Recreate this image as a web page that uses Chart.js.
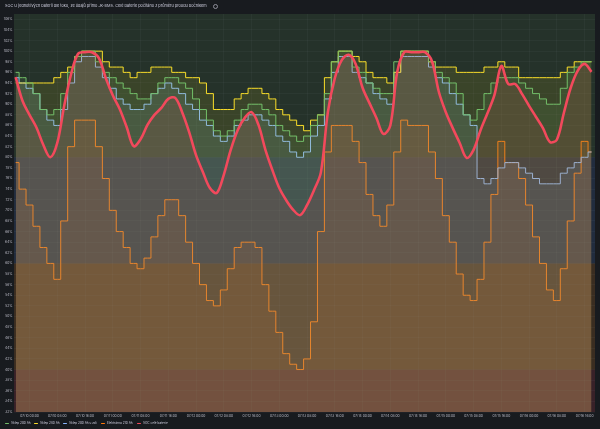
<!DOCTYPE html>
<html>
<head>
<meta charset="utf-8">
<script src="https://cdn.jsdelivr.net/npm/chart.js@4.4.0/dist/chart.umd.min.js"></script>
<style>
html,body{margin:0;padding:0;background:#181b1f;}
#wrap{position:relative;width:600px;height:429px;overflow:hidden;font-family:Inter,"DejaVu Sans",sans-serif;color:#ccccdc;}
#chart{position:absolute;left:0;top:0;}
#title{position:absolute;left:5px;top:4px;font-size:3.4px;line-height:4px;white-space:nowrap;}
#info{position:absolute;left:213px;top:3.5px;width:3.4px;height:3.4px;border:0.6px solid #8e8e99;border-radius:50%;}
.leg{position:absolute;top:421px;font-size:3.1px;line-height:4px;white-space:nowrap;color:#ccccdc;}
.leg i{position:absolute;left:-6px;top:1.5px;width:4px;height:1.2px;border-radius:0.5px;}
</style>
</head>
<body>
<div id="wrap">
  <canvas id="chart" width="600" height="429"></canvas>
  <div id="title">SOC U jednotlivých baterií dle toku, ze údajů přímo JK-BMS. Celé baterie počítáno z průměru proudu bočníkem</div>
  <div id="info"></div>
  <div id="legend"></div>
</div>
<script>
// hodiny od 07/10 00:00
const hours = [-4,-2,0,2,4,6,8,10,12,14,
  16,18,20,22,24,26,28,30,32,34,
  36,38,40,42,44,46,48,50,52,54,
  56,58,60,62,64,66,68,70,72,74,
  76,78,80,82,84,86,88,90,92,94,
  96,98,100,102,104,106,108,110,112,114,
  116,118,120,122,124,126,128,130,132,134,
  136,138,140,142,144,146,148,150,152,154,
  156,158,160,162];

const sklep200 = [96,95,94,92,89,88,89,92,96,99,
  100,100,98,96,95,94,93,92,91,91,
  92,94,95,95,94,93,91,89,87,85,
  84,85,87,89,90,90,89,88,86,85,
  84,83,84,86,88,92,98,100,100,97,
  96,94,93,92,92,98,100,100,100,100,
  98,96,95,94,92,88,87,89,92,94,
  95,95,95,94,93,92,91,90,90,93,
  96,97,98,98];

const sklep240 = [94,94,94,94,94,94,95,96,97,99,
  100,100,100,98,97,97,96,95,96,96,
  97,97,97,96,96,95,95,94,92,89,
  89,89,91,92,93,93,92,91,89,88,
  87,86,85,87,88,95,98,100,100,99,
  98,96,95,95,94,96,100,100,100,100,
  98,97,97,97,96,96,96,96,97,97,
  98,97,97,95,95,95,95,95,95,96,
  97,98,98,98];

const sklep200zed = [95,94,93,92,89,87,86,89,94,98,
  99,99,97,95,93,91,90,89,89,90,
  92,93,94,93,92,90,89,87,86,84,
  83,84,86,87,88,88,87,86,84,83,
  81,80,81,84,86,91,96,99,99,96,
  95,94,92,91,90,96,99,99,99,99,
  97,95,94,92,90,88,86,76,75,76,
  78,79,79,78,77,76,75,75,75,77,
  78,79,80,81];

const elektrarna210 = [79,74,71,67,63,60,57,68,82,87,
  87,87,82,76,70,66,63,60,59,61,
  65,69,72,72,69,64,60,56,53,52,
  55,59,63,64,64,63,56,51,47,43,
  41,40,42,49,66,81,86,86,86,83,
  79,73,69,67,71,81,87,86,86,86,
  81,76,69,64,58,54,53,57,64,73,
  83,79,79,76,71,65,60,55,53,59,
  68,77,83,81];

const socCele = [95.1,90.6,88.0,85.6,82.3,80.0,82.7,89.7,95.7,99.5,
  99.8,99.8,98.7,94.9,91.7,89.1,85.7,82.1,83.4,86.1,
  88.0,89.3,91.0,91.2,88.5,84.8,80.4,77.2,74.2,73.3,
  76.7,81.4,85.1,87.4,88.5,86.1,81.4,77.6,74.2,71.9,
  70.1,69.1,71.0,73.8,77.2,88.5,94.9,98.3,99.3,97.6,
  93.1,90.2,87.4,84.4,86.0,96.1,99.8,99.8,99.8,99.8,
  98.1,92.3,88.5,85.5,82.7,79.9,81.4,85.1,88.3,91.7,
  97.2,93.8,93.8,91.9,89.7,87.6,85.5,82.9,83.3,88.3,
  93.1,96.3,97.6,96.1];

const yTicks = [32,34,36,38,40,42,44,46,48,50,52,54,56,58,60,62,64,66,68,70,
  72,74,76,78,80,82,84,86,88,90,92,94,96,98,100,102,104,106];
const xTickHours = [0,8,16,24,32,40,48,56,64,72,80,88,96,104,112,120,128,136,144,152,160];
const xTickLabels = ['07/10 00:00','07/10 08:00','07/10 16:00','07/11 00:00','07/11 08:00','07/11 16:00',
  '07/12 00:00','07/12 08:00','07/12 16:00','07/13 00:00','07/13 08:00','07/13 16:00',
  '07/14 00:00','07/14 08:00','07/14 16:00','07/15 00:00','07/15 08:00','07/15 16:00',
  '07/16 00:00','07/16 08:00','07/16 16:00'];

// prahy pozadí
const thresholds = [32,40,60,80,107];
const thresholdColors = ['rgba(242,73,92,0.15)','rgba(255,152,48,0.15)','rgba(87,148,242,0.15)','rgba(115,191,105,0.15)'];

const series = [
  {label:'Sklep 200 Ah', data:sklep200, color:'#73BF69', fill:'rgba(115,191,105,0.10)'},
  {label:'Sklep 240 Ah', data:sklep240, color:'#FADE2A', fill:'rgba(250,222,42,0.10)'},
  {label:'Sklep 200 Ah u zdi', data:sklep200zed, color:'#8AB8FF', fill:'rgba(138,184,255,0.10)'},
  {label:'Elektrárna 210 Ah', data:elektrarna210, color:'#FF780A', fill:'rgba(255,120,10,0.10)'},
  {label:'SOC celé baterie', data:socCele, color:'#F2495C', fill:'rgba(242,73,92,0.10)'}
];

const bands = {
  id:'bands',
  beforeDraw(chart){
    const {ctx, chartArea:a, scales:{y}} = chart;
    ctx.save();
    for(let i=0;i<thresholdColors.length;i++){
      const top = y.getPixelForValue(thresholds[i+1]);
      const bot = y.getPixelForValue(thresholds[i]);
      ctx.fillStyle = thresholdColors[i];
      ctx.fillRect(a.left, top, a.right-a.left, bot-top);
    }
    ctx.restore();
  }
};

const datasets = series.map((s,i)=>{
  const isSoc = i===4;
  return {
    label:s.label,
    data:hours.map((h,k)=>({x:h, y:s.data[k]})),
    borderColor:s.color,
    backgroundColor:s.fill,
    borderWidth:isSoc?2.6:1,
    fill:'start',
    stepped:isSoc?false:'middle',
    tension:isSoc?0.35:0,
    pointRadius:0,
    order:isSoc?0:i+1
  };
});

new Chart(document.getElementById('chart'), {
  type:'line',
  data:{datasets},
  plugins:[bands],
  options:{
    responsive:false,
    animation:false,
    layout:{padding:{left:0,right:5,top:14,bottom:7}},
    plugins:{legend:{display:false}, title:{display:false}, tooltip:{enabled:false}},
    scales:{
      x:{
        type:'linear', min:-4.47, max:163,
        afterBuildTicks(ax){ ax.ticks = xTickHours.map(v=>({value:v})); },
        afterFit(ax){ ax.height = 10; },
        ticks:{autoSkip:false, maxRotation:0, minRotation:0, padding:2, color:'#b9b9c4',
          font:{family:'Inter', size:3.3}, callback:(v,i)=>xTickLabels[i]},
        grid:{color:'rgba(204,204,220,0.07)', lineWidth:0.6, drawTicks:false},
        border:{display:false}
      },
      y:{
        min:32, max:107,
        afterBuildTicks(ax){ ax.ticks = yTicks.map(v=>({value:v})); },
        afterFit(ax){ ax.width = 14; },
        ticks:{padding:1.5, color:'#b9b9c4', font:{family:'Inter', size:3.3}, callback:v=>v+'%'},
        grid:{color:'rgba(204,204,220,0.07)', lineWidth:0.6, drawTicks:false},
        border:{display:false}
      }
    }
  }
});

// legenda
const legLeft = [11,40,69,107,143];
const leg = document.getElementById('legend');
series.forEach((s,i)=>{
  const d = document.createElement('div');
  d.className = 'leg';
  d.style.left = legLeft[i]+'px';
  d.innerHTML = '<i style="background:'+s.color+'"></i>'+s.label;
  leg.appendChild(d);
});

// titulek na šířku jako v originále
const t = document.getElementById('title');
const fs = 3.4 * 202 / t.offsetWidth;
t.style.fontSize = fs+'px';
</script>
</body>
</html>
